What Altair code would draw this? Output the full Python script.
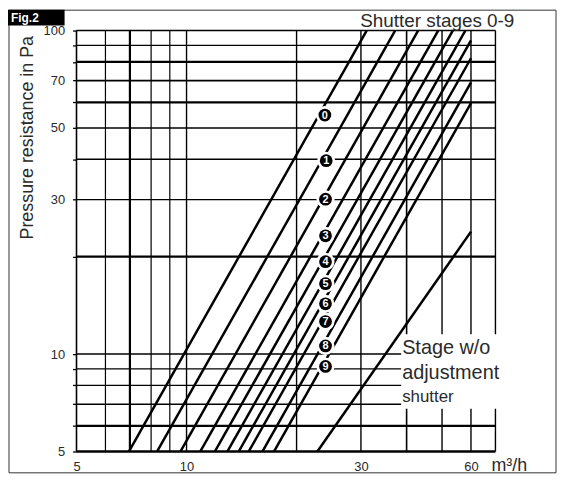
import altair as alt
import pandas as pd

# ---------------- data ----------------
stages = ["0", "1", "2", "3", "4", "5", "6", "7", "8", "9"]
# each shutter-stage curve: start point (bottom, 5 Pa) and end point
q_start = [6.96, 8.31, 9.63, 10.91, 11.96, 12.94, 13.90, 14.80, 16.14, 17.36]
p_start = [5, 5, 5, 5, 5, 5, 5, 5, 5, 5]
q_end = [31.1, 37.2, 43.0, 48.8, 53.5, 57.9, 60, 60, 60, 60]
p_end = [100, 100, 100, 100, 100, 100, 93.2, 82.1, 69.1, 59.7]

# circled stage markers
label_q = [23.9, 24.1, 24.0, 24.0, 24.0, 24.0, 24.0, 24.0, 24.0, 24.0]
label_p = [54.8, 39.6, 30.1, 23.2, 19.3, 16.5, 14.3, 12.6, 10.6, 9.16]

# stage without adjustment shutter
base_q = [22.8, 60]
base_p = [5, 23.9]

# axes
x_domain = [5, 70]
y_domain = [5, 100]
x_grid = [5, 6, 7, 8, 9, 10, 20, 30, 40, 50, 60, 70]
x_grid_w = [1.6, 1.2, 2.2, 1.2, 1.2, 1.4, 1.4, 1.4, 1.6, 1.4, 1.4, 1.4]
y_grid = [5, 6, 7, 8, 9, 10, 20, 30, 40, 50, 60, 70, 80, 90, 100]
y_grid_w = [2.6, 2.2, 1.6, 1.2, 1.2, 1.5, 2.2, 1.2, 1.4, 1.6, 2.2, 1.6, 2.2, 1.2, 1.6]
x_labels = [5, 10, 30, 60]
y_labels = [5, 10, 30, 50, 70, 100]

FONT = "Liberation Sans"
TXT = "#2a2a2a"

# ---------------- encodings ----------------
xs = alt.Scale(type="log", domain=x_domain, nice=False, zero=False)
ys = alt.Scale(type="log", domain=y_domain, nice=False, zero=False)

x_axis = alt.Axis(values=x_labels, title=None, ticks=False, domain=False, grid=False,
                  labelFlush=False, labelOverlap=False, labelPadding=9,
                  labelFont=FONT, labelFontSize=13, labelColor=TXT,
                  labelExpr="format(datum.value, 'd')")
y_axis = alt.Axis(values=y_grid, title=None, ticks=True, tickSize=4, tickColor="black",
                  tickWidth=1.3, domain=False, grid=False, labelFlush=False,
                  labelOverlap=False, labelPadding=8, labelFont=FONT, labelFontSize=13,
                  labelColor=TXT,
                  labelExpr=f"indexof({y_labels}, datum.value) >= 0 ? format(datum.value, 'd') : ''")


def X(f):
    return alt.X(f, type="quantitative", scale=xs, axis=x_axis)


def Y(f):
    return alt.Y(f, type="quantitative", scale=ys, axis=y_axis)


one = alt.Data(values=[{}])

# ---------------- layers ----------------
frame = alt.Chart(one).mark_rect(filled=False, stroke="#333", strokeWidth=1).encode(
    x=alt.value(-68), x2=alt.value(483), y=alt.value(-20.5), y2=alt.value(445.5))

fig_box = alt.Chart(one).mark_rect(fill="black").encode(
    x=alt.value(-69), x2=alt.value(-12), y=alt.value(-21), y2=alt.value(-5))
fig_txt = alt.Chart(one).mark_text(text="Fig.2", font=FONT, fontSize=12, fontWeight="bold",
                                   color="white", align="left", baseline="alphabetic").encode(
    x=alt.value(-66), y=alt.value(-8.5))

vdf = pd.DataFrame({"q": x_grid, "w": x_grid_w, "lo": y_domain[0], "hi": y_domain[1]})
vgrid = alt.Chart(vdf).mark_rule(color="black").encode(
    x=X("q"), y=Y("lo"), y2="hi", strokeWidth=alt.StrokeWidth("w:Q", scale=None))

hdf = pd.DataFrame({"p": y_grid, "w": y_grid_w, "lo": x_domain[0], "hi": x_domain[1]})
hgrid = alt.Chart(hdf).mark_rule(color="black").encode(
    y=Y("p"), x=X("lo"), x2="hi", strokeWidth=alt.StrokeWidth("w:Q", scale=None))

white_box = alt.Chart(one).mark_rect(fill="white").encode(
    x=alt.value(327), x2=alt.value(426), y=alt.value(306), y2=alt.value(381))

rows = []
for s, qa, pa, qb, pb in zip(stages, q_start, p_start, q_end, p_end):
    rows.append({"stage": s, "q": qa, "p": pa})
    rows.append({"stage": s, "q": qb, "p": pb})
ldf = pd.DataFrame(rows)
lines = alt.Chart(ldf).mark_line(color="black", strokeWidth=2.5).encode(
    x=X("q"), y=Y("p"), detail="stage:N")

bdf = pd.DataFrame({"q": base_q, "p": base_p})
base_line = alt.Chart(bdf).mark_line(color="black", strokeWidth=2.5).encode(x=X("q"), y=Y("p"))

mdf = pd.DataFrame({"stage": stages, "q": label_q, "p": label_p})
halo = alt.Chart(mdf).mark_point(shape="circle", filled=True, color="white", size=330,
                                  opacity=1).encode(x=X("q"), y=Y("p"))
disc = alt.Chart(mdf).mark_point(shape="circle", filled=True, color="black", size=165,
                                 opacity=1).encode(x=X("q"), y=Y("p"))
digits = alt.Chart(mdf).mark_text(font=FONT, fontSize=11, fontWeight="bold", color="white",
                                  baseline="middle", align="center", dy=0.5).encode(
    x=X("q"), y=Y("p"), text="stage:N")


def label(txt, x, y, size, align="left", angle=0):
    return alt.Chart(one).mark_text(text=txt, font=FONT, fontSize=size, color=TXT,
                                    align=align, baseline="alphabetic", angle=angle).encode(
        x=alt.value(x), y=alt.value(y))


title_top = label("Shutter stages 0-9", 441, -4, 19, align="right")
y_title = alt.Chart(one).mark_text(text="Pressure resistance in Pa", font=FONT, fontSize=18,
                                   color=TXT, align="center", baseline="middle",
                                   angle=270).encode(x=alt.value(-49), y=alt.value(108))
t1 = label("Stage w/o", 328, 326, 20)
t2 = label("adjustment", 328, 351, 20)
t3 = label("shutter", 328, 374, 17)
unit = label("m³/h", 418, 444, 18)

chart = alt.layer(
    frame, fig_box, fig_txt, vgrid, hgrid, white_box, lines, base_line,
    halo, disc, digits, title_top, y_title, t1, t2, t3, unit
).properties(
    width=422, height=424,
    padding={"left": 69, "top": 21, "right": 62, "bottom": 22},
    autosize=alt.AutoSizeParams(type="none"),
    background="white",
).configure_view(strokeWidth=0)

chart.save("out.html", embed_options={"renderer": "svg", "actions": False})
